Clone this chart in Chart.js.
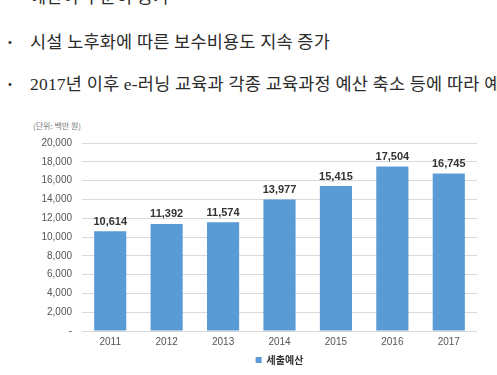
<!DOCTYPE html>
<html>
<head>
<meta charset="utf-8">
<script src="https://cdn.jsdelivr.net/npm/chart.js@4.4.1/dist/chart.umd.min.js"></script>
<style>
  html, body { margin: 0; padding: 0; background: #fff; }
  body { width: 497px; height: 375px; position: relative; overflow: hidden; }
  .txt { position: absolute; white-space: nowrap; font-family: "Liberation Serif", "Noto Sans CJK KR", serif; font-size: 17.5px; line-height: 22px; color: #2b2b2b; letter-spacing: 0.2px; }
  .bul { position: absolute; font-family: "Liberation Sans", sans-serif; font-size: 11px; line-height: 12px; color: #2b2b2b; }
  #unit { position: absolute; left: 33px; top: 120px; font-family: "Noto Sans CJK KR", sans-serif; font-size: 8px; color: #777; white-space: nowrap; }
  #wrap { position: absolute; left: 0; top: 110px; width: 497px; height: 265px; }
</style>
</head>
<body>
<div class="txt" style="left:30px; top:-14px;">예산이 꾸준히 증가</div>
<div class="bul" style="left:8px; top:36px;">•</div>
<div class="txt" style="left:30px; top:31px;">시설 노후화에 따른 보수비용도 지속 증가</div>
<div class="bul" style="left:8px; top:78px;">•</div>
<div class="txt" style="left:30px; top:73px;">2017년 이후 e-러닝 교육과 각종 교육과정 예산 축소 등에 따라 예산이 감소</div>
<div id="unit">(단위: 백만 원)</div>
<div id="wrap"><canvas id="c" width="497" height="265"></canvas></div>
<script>
const categories = ["2011", "2012", "2013", "2014", "2015", "2016", "2017"];
const seriesName = "세출예산";
const budget = [10614, 11392, 11574, 13977, 15415, 17504, 16745];
const yTicks = [0, 2000, 4000, 6000, 8000, 10000, 12000, 14000, 16000, 18000, 20000];

const fmt = v => v === 0 ? "-" : v.toLocaleString("en-US");

const valueLabels = {
  id: "valueLabels",
  afterDatasetsDraw(chart) {
    const ctx = chart.ctx;
    const meta = chart.getDatasetMeta(0);
    ctx.save();
    ctx.font = "bold 11px 'Liberation Sans', Arial, sans-serif";
    ctx.fillStyle = "#333";
    ctx.textAlign = "center";
    ctx.textBaseline = "bottom";
    meta.data.forEach((bar, i) => {
      ctx.fillText(fmt(chart.data.datasets[0].data[i]), bar.x, bar.y - 4);
    });
    ctx.restore();
  }
};

new Chart(document.getElementById("c"), {
  type: "bar",
  data: {
    labels: categories,
    datasets: [{
      label: seriesName,
      data: budget,
      backgroundColor: "#5b9bd5",
      borderWidth: 0,
      categoryPercentage: 1,
      barPercentage: 0.57
    }]
  },
  options: {
    responsive: false,
    animation: false,
    devicePixelRatio: 1,
    layout: { padding: { top: 33, right: 20, left: 0, bottom: 0 } },
    plugins: {
      tooltip: { enabled: false },
      legend: {
        position: "bottom",
        fullSize: false,
        labels: {
          boxWidth: 6, boxHeight: 6, padding: 4,
          color: "#333",
          font: { family: "'Noto Sans CJK KR', sans-serif", size: 10, weight: "bold" }
        }
      }
    },
    scales: {
      x: {
        grid: { display: false, drawTicks: false },
        border: { display: false },
        ticks: { color: "#555", padding: 5, font: { family: "'Liberation Sans', Arial, sans-serif", size: 10 } },
        afterFit(s) { s.height = 20; }
      },
      y: {
        min: 0, max: 20000,
        afterBuildTicks(s) { s.ticks = yTicks.map(v => ({ value: v })); },
        grid: { color: "#d9d9d9", lineWidth: 1, drawTicks: false },
        border: { display: false },
        ticks: { color: "#555", padding: 10, callback: v => fmt(v), font: { family: "'Liberation Sans', Arial, sans-serif", size: 10 } },
        afterFit(s) { s.width = 82; }
      }
    }
  },
  plugins: [valueLabels]
});
</script>
</body>
</html>
